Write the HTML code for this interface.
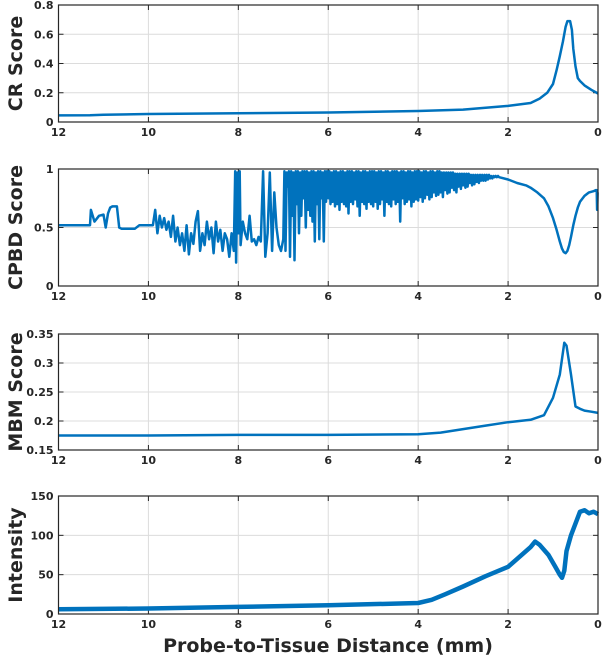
<!DOCTYPE html>
<html><head><meta charset="utf-8"><style>
body{margin:0;background:#fff;}
svg{display:block;font-family:"DejaVu Sans","Liberation Sans",sans-serif;}
.tick{font-size:11px;font-weight:bold;fill:#262626;}
.ttl{font-size:19px;font-weight:bold;fill:#262626;}
</style></head><body>
<svg id="fig" width="602" height="658"></svg>
<script>
const crDist=[12,11.3,11,10,8,6,4,3,2,1.5,1.3,1.13,1.0,0.92,0.85,0.78,0.72,0.68,0.62,0.58,0.55,0.5,0.45,0.4,0.3,0.15,0];
const crVal=[0.045,0.046,0.05,0.055,0.06,0.065,0.075,0.085,0.11,0.13,0.16,0.2,0.26,0.355,0.45,0.55,0.65,0.69,0.69,0.63,0.5,0.38,0.3,0.28,0.25,0.22,0.195];
// CPBD: sparse early segment
const cpEarlyDist=[12,11.3,11.28,11.2,11.1,11.0,10.95,10.9,10.85,10.8,
 10.7,10.65,10.6,10.3,10.2,9.9,9.85,9.8,9.75,9.7,
 9.65,9.6,9.55,9.5,9.45,9.4,9.35,9.3,9.25,9.2,
 9.15,9.1,9.05,9.0,8.95,8.9,8.85,8.8,8.75,8.7,
 8.65,8.6,8.55,8.5,8.45,8.4,8.35,8.3,8.25,8.2,
 8.15,8.1,8.07,8.05,8.02,8.0,7.97,7.95,7.9,7.85,
 7.8,7.75,7.7,7.65,7.6,7.55,7.5,7.45,7.4,7.35,7.3,7.25,7.2,7.15,7.1,7.05];
const cpEarlyVal=[0.52,0.52,0.65,0.55,0.6,0.61,0.5,0.62,0.67,0.68,
 0.68,0.5,0.49,0.49,0.52,0.52,0.65,0.45,0.6,0.5,
 0.58,0.48,0.55,0.42,0.6,0.38,0.5,0.35,0.45,0.3,
 0.52,0.27,0.45,0.36,0.55,0.64,0.3,0.45,0.35,0.55,
 0.4,0.5,0.28,0.55,0.38,0.48,0.3,0.45,0.4,0.25,
 0.45,0.3,0.98,0.2,0.97,0.45,0.98,0.35,0.55,0.45,
 0.4,0.6,0.38,0.4,0.35,0.42,0.38,0.98,0.25,0.45,0.97,0.3,0.8,0.5,0.35,0.3];
// CPBD: dense oscillating segment, 7.00 -> 2.25 mm every 0.05 mm
const cpDenseStart=7.0, cpDenseStep=0.05;
const cpDenseLow=[0.4,0.3,0.85,0.25,0.6,0.22,0.7,0.45,0.6,0.75,
 0.5,0.65,0.6,0.55,0.38,0.7,0.4,0.75,0.38,0.72,
 0.75,0.7,0.72,0.68,0.7,0.65,0.72,0.7,0.68,0.62,
 0.72,0.7,0.74,0.68,0.6,0.72,0.7,0.66,0.72,0.7,
 0.68,0.72,0.66,0.7,0.74,0.6,0.72,0.7,0.68,0.74,
 0.7,0.72,0.55,0.75,0.7,0.72,0.74,0.68,0.72,0.74,
 0.73,0.76,0.72,0.75,0.78,0.74,0.76,0.8,0.77,0.78,
 0.8,0.76,0.82,0.79,0.8,0.84,0.82,0.8,0.85,0.83,
 0.86,0.84,0.85,0.88,0.86,0.87,0.89,0.88,0.9,0.9,
 0.9,0.91,0.92,0.92,0.93,0.93];
const cpDenseHigh=[0.98,0.97,0.98,0.98,0.97,0.98,0.98,0.97,0.98,0.98,
 0.98,0.97,0.98,0.98,0.97,0.98,0.98,0.97,0.98,0.98,
 0.98,0.97,0.98,0.98,0.97,0.98,0.98,0.97,0.98,0.98,
 0.98,0.97,0.98,0.98,0.97,0.98,0.98,0.97,0.98,0.98,
 0.98,0.97,0.98,0.98,0.97,0.98,0.98,0.97,0.98,0.98,
 0.98,0.97,0.98,0.98,0.97,0.98,0.98,0.97,0.98,0.98,
 0.98,0.97,0.98,0.98,0.97,0.98,0.98,0.97,0.98,0.98,
 0.97,0.97,0.97,0.97,0.97,0.97,0.96,0.96,0.96,0.96,
 0.96,0.96,0.96,0.95,0.95,0.95,0.95,0.95,0.95,0.95,
 0.95,0.95,0.94,0.94,0.94,0.94];
const cpLateDist=[2.2,2.0,1.8,1.6,1.5,1.35,1.2,1.1,1.0,0.92,0.85,0.8,0.76,0.72,0.68,0.64,0.6,0.55,0.5,0.45,0.4,0.3,0.2,0.1,0.05,0.03,0.02,0.01,0];
const cpLateVal=[0.93,0.91,0.88,0.86,0.84,0.8,0.75,0.68,0.58,0.48,0.38,0.32,0.29,0.28,0.3,0.35,0.42,0.52,0.6,0.67,0.72,0.77,0.8,0.81,0.82,0.82,0.65,0.8,0.8];
const mbDist=[12,10,8,6,4,3.5,3,2.5,2,1.5,1.2,1.0,0.85,0.75,0.7,0.6,0.5,0.4,0.3,0.15,0];
const mbVal=[0.175,0.175,0.176,0.176,0.177,0.18,0.186,0.192,0.198,0.202,0.21,0.24,0.28,0.335,0.33,0.28,0.225,0.221,0.218,0.216,0.214];
const inDist=[12,10,8,6,4,3.7,3.4,3.0,2.5,2.0,1.8,1.5,1.4,1.3,1.1,0.95,0.85,0.8,0.75,0.7,0.6,0.5,0.4,0.3,0.2,0.1,0];
const inVal=[6,7,9,11,14,18,25,35,48,60,70,85,92,88,75,60,50,46,55,80,100,115,130,132,128,130,127];
const xTicks=[12,10,8,6,4,2,0];

// assemble CPBD series
const cpDist=cpEarlyDist.slice(), cpVal=cpEarlyVal.slice();
cpDenseLow.forEach((lo,i)=>{
  const d=cpDenseStart-i*cpDenseStep;
  cpDist.push(d); cpVal.push(lo);
  cpDist.push(d-cpDenseStep/2); cpVal.push(cpDenseHigh[i]);
});
cpLateDist.forEach((d,i)=>{cpDist.push(d);cpVal.push(cpLateVal[i]);});

const panels=[
 {name:'cr',top:5,bot:122,min:0,max:0.8,ticks:[0,0.2,0.4,0.6,0.8],lab:['0','0.2','0.4','0.6','0.8'],title:'CR Score',d:crDist,v:crVal,w:2.5},
 {name:'cpbd',top:169,bot:286,min:0,max:1,ticks:[0,0.5,1],lab:['0','0.5','1'],title:'CPBD Score',d:cpDist,v:cpVal,w:2.5},
 {name:'mbm',top:334,bot:450,min:0.15,max:0.35,ticks:[0.15,0.2,0.25,0.3,0.35],lab:['0.15','0.2','0.25','0.3','0.35'],title:'MBM Score',d:mbDist,v:mbVal,w:2.5},
 {name:'intensity',top:496,bot:614,min:0,max:150,ticks:[0,50,100,150],lab:['0','50','100','150'],title:'Intensity',d:inDist,v:inVal,w:4.5}
];
const L=58.5,R=598;
const svg=document.getElementById('fig');
const NS='http://www.w3.org/2000/svg';
function mk(t,a,p){const e=document.createElementNS(NS,t);for(const k in a)e.setAttribute(k,a[k]);(p||svg).appendChild(e);return e;}
const xs=d=>R-(d/12)*(R-L);
panels.forEach(p=>{
 const ys=v=>p.bot-(v-p.min)/(p.max-p.min)*(p.bot-p.top);
 const g=mk('g',{});
 
 
 xTicks.forEach(t=>{
  if(t!==12&&t!==0){const l=mk('line',{x1:xs(t),x2:xs(t),y1:p.top,y2:p.bot,stroke:'#dcdcdc','stroke-width':1},g);
  }
  mk('line',{x1:xs(t),x2:xs(t),y1:p.bot,y2:p.bot-5,stroke:'#262626'},g);
  mk('line',{x1:xs(t),x2:xs(t),y1:p.top,y2:p.top+5,stroke:'#262626'},g);
  const tx=mk('text',{x:xs(t),y:p.bot+14,'text-anchor':'middle',class:'tick'},g);tx.textContent=t;
  
 });
 p.ticks.forEach((t,i)=>{
  if(i>0&&i<p.ticks.length-1){const l=mk('line',{x1:L,x2:R,y1:ys(t),y2:ys(t),stroke:'#dcdcdc','stroke-width':1},g);
  }
  mk('line',{x1:L,x2:L+5,y1:ys(t),y2:ys(t),stroke:'#262626'},g);
  mk('line',{x1:R,x2:R-5,y1:ys(t),y2:ys(t),stroke:'#262626'},g);
  const tx=mk('text',{x:L-5,y:ys(t)+4,'text-anchor':'end',class:'tick'},g);tx.textContent=p.lab[i];
  
 });
 const pts=p.d.map((d,i)=>xs(d).toFixed(1)+','+ys(p.v[i]).toFixed(1)).join(' ');
 const pl=mk('polyline',{points:pts,fill:'none',stroke:'#0072bd','stroke-width':p.w,'stroke-linejoin':'round'},g);
 
 
 const bx=mk('rect',{x:L,y:p.top,width:R-L,height:p.bot-p.top,fill:'none',stroke:'#262626','stroke-width':1.2},g);
 
 const cy=(p.top+p.bot)/2;
 const tt=mk('text',{x:22,y:cy,'text-anchor':'middle',class:'ttl',transform:'rotate(-90 22 '+cy+')'},g);
 tt.textContent=p.title;
 
});
const xt=mk('text',{x:328,y:652,'text-anchor':'middle',class:'ttl'});
xt.textContent='Probe-to-Tissue Distance (mm)';


</script>
</body></html>
